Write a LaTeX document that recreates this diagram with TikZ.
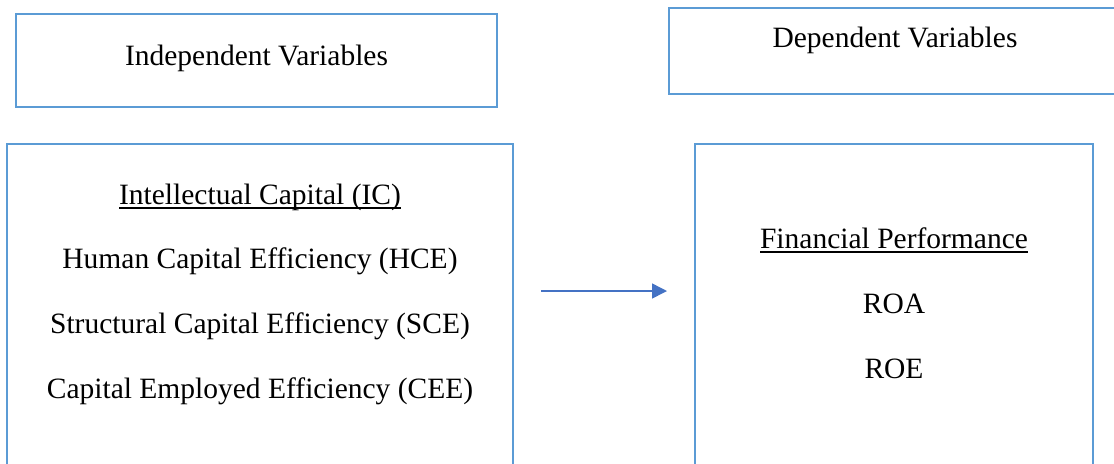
\documentclass[tikz,border=0pt]{standalone}
\usepackage{fontspec}
\setmainfont{Liberation Serif}
\usetikzlibrary{arrows.meta}
\definecolor{boxblue}{HTML}{5B9BD5}
\definecolor{arrowblue}{HTML}{4472C4}
\newcommand{\ulined}[1]{\setbox0\hbox{#1}\rlap{\copy0}\rule[-2.4pt]{\wd0}{0.75pt}}

\begin{document}
\begin{tikzpicture}[x=0.5pt,y=-0.5pt,
    box/.style={draw=boxblue,line width=1.25pt},
    txt/.style={anchor=base,inner sep=0pt,font=\fontsize{14.75}{17}\selectfont}]
  \useasboundingbox (0,0) rectangle (1114,463);
  \clip (0,0) rectangle (1114,463);
  \draw[box] (16,14) rectangle (497,107);
  \draw[box] (669,8) rectangle (1130,94);
  \draw[box] (7,144) rectangle (513,490);
  \draw[box] (695,144) rectangle (1093,490);
  \node[txt] (indep) at (256.5,65) {Independent Variables};
  \node[txt] (dep) at (895,47) {Dependent Variables};
  \node[txt] (ic) at (260,204) {\ulined{Intellectual Capital (IC)}};
  \node[txt] (hce) at (260,268) {Human Capital Efficiency (HCE)};
  \node[txt] (sce) at (260,333) {Structural Capital Efficiency (SCE)};
  \node[txt] (cee) at (260,398) {Capital Employed Efficiency (CEE)};
  \node[txt] (finperf) at (894,248) {\ulined{Financial Performance}};
  \node[txt] (roa) at (894,313) {ROA};
  \node[txt] (roe) at (894,378) {ROE};
  \coordinate (arrstart) at (541,291);
  \coordinate (arrend) at (667,291);
  \draw[arrowblue,line width=0.75pt,-{Triangle[length=7.5pt,width=7.5pt]}] (arrstart) -- (arrend);
\end{tikzpicture}
\end{document}
